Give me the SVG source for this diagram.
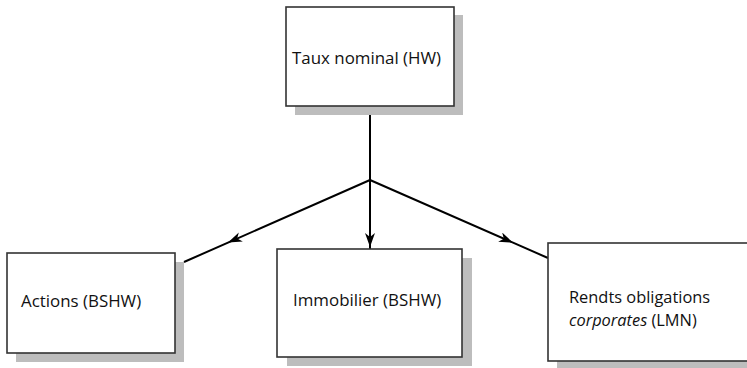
<svg xmlns="http://www.w3.org/2000/svg" width="747" height="368" viewBox="0 0 747 368">
<defs>
<marker id="arr" viewBox="0 0 14 10" refX="14" refY="5" markerWidth="14" markerHeight="10" markerUnits="userSpaceOnUse" orient="auto">
<path d="M0,0 L14,5 L0,10 L4,5 z" fill="#000"/>
</marker>
<style>
.shadow{fill:#bdbdbd;}
.box{fill:#fff;stroke:#333;stroke-width:1.6;}
.lbl{font-family:"Open Sans",Lato,sans-serif;font-size:16.9px;fill:#111;}
.conn{fill:none;stroke:#000;stroke-width:2;}
</style>
</defs>
<rect width="747" height="368" fill="#fff"/>
<g id="connectors">
<path class="conn" d="M370,106 L370,180"/>
<path class="conn" d="M370,180 L370,247 L370,249" marker-mid="url(#arr)"/>
<path class="conn" d="M370,180 L228,242.6 L184,262" marker-mid="url(#arr)"/>
<path class="conn" d="M370,180 L513,242.7 L548,258" marker-mid="url(#arr)"/>
</g>
<g id="taux">
<rect class="shadow" x="295" y="15" width="168" height="100"/>
<rect class="box" x="286" y="7" width="168" height="99"/>
<text class="lbl" x="292" y="64">Taux nominal (HW)</text>
</g>
<g id="actions">
<rect class="shadow" x="16" y="262" width="168" height="100"/>
<rect class="box" x="7" y="253" width="168" height="100"/>
<text class="lbl" x="21" y="307">Actions (BSHW)</text>
</g>
<g id="immobilier">
<rect class="shadow" x="287" y="258" width="185" height="108"/>
<rect class="box" x="277" y="249" width="185" height="108"/>
<text class="lbl" x="293" y="306">Immobilier (BSHW)</text>
</g>
<g id="rendts">
<rect class="shadow" x="557" y="252" width="210" height="118"/>
<rect class="box" x="548" y="243" width="210" height="118"/>
<text class="lbl" x="569" y="303" style="font-size:16.4px">Rendts obligations</text>
<text class="lbl" x="569" y="326" style="font-size:16.4px"><tspan font-style="italic">corporates</tspan> (LMN)</text>
</g>
</svg>
